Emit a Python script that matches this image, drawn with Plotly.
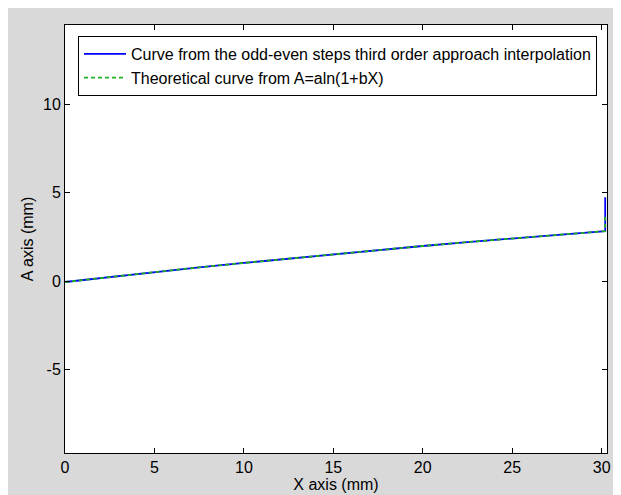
import plotly.graph_objects as go

# Data
x_interp = [0, 2.5, 5, 7.5, 10, 12.5, 15, 17.5, 20, 22.5, 25, 27.5, 30, 30.2, 30.2]
a_interp = [-0.05, 0.24, 0.51, 0.78, 1.03, 1.28, 1.52, 1.76, 1.99, 2.21, 2.42, 2.63, 2.82, 2.83, 4.75]

x_theory = [0, 2.5, 5, 7.5, 10, 12.5, 15, 17.5, 20, 22.5, 25, 27.5, 30, 30.2, 30.2]
a_theory = [-0.05, 0.24, 0.51, 0.78, 1.03, 1.28, 1.52, 1.76, 1.99, 2.21, 2.42, 2.63, 2.82, 2.83, 3.7]

x_ticks = [0, 5, 10, 15, 20, 25, 30]
y_ticks = [-5, 0, 5, 10]
y_tick_text = ["-5", "0", "5", "10"]

FONT = "Liberation Sans, Arial, sans-serif"
FS = 16

# figure sits at an 8px offset in the page (body margin)
W, H = 613, 487
L, R, T, B = 57, 599, 17, 445   # plot area in figure pixels
PW, PH = R - L, B - T

fig = go.Figure()
fig.add_trace(go.Scatter(
    x=x_interp, y=a_interp, mode="lines",
    name="Curve from the odd-even steps third order approach interpolation",
    line=dict(color="#0000ff", width=1.8),
))
fig.add_trace(go.Scatter(
    x=x_theory, y=a_theory, mode="lines",
    name="Theoretical curve from A=aln(1+bX)",
    line=dict(color="#22b022", width=1.8, dash="4px,3px"),
))

axis_common = dict(
    showgrid=False, zeroline=False, showline=True, linecolor="black", linewidth=1,
    mirror="ticks", ticks="inside", ticklen=5, tickcolor="black", automargin=False,
    tickfont=dict(family=FONT, size=FS, color="black"),
)

fig.update_layout(
    width=W, height=H,
    paper_bgcolor="#d9d9d9", plot_bgcolor="white",
    margin=dict(l=L, r=W - R, t=T, b=H - B, pad=0),
    font=dict(family=FONT, size=FS, color="black"),
    showlegend=True,
    legend=dict(
        x=(70 - L) / PW, y=(B - 28) / PH, xanchor="left", yanchor="top",
        bgcolor="white", bordercolor="black", borderwidth=1,
        font=dict(family=FONT, size=FS, color="black"),
        tracegroupgap=0, itemwidth=42,
    ),
    xaxis=dict(range=[0, 30.3], tickvals=x_ticks,
               title=dict(text="X axis (mm)", standoff=1,
                          font=dict(family=FONT, size=FS, color="black")),
               **axis_common),
    yaxis=dict(range=[-9.73, 14.5], tickvals=y_ticks, ticktext=y_tick_text,
               title=dict(text="A axis (mm)", standoff=5,
                          font=dict(family=FONT, size=FS, color="black")),
               **axis_common),
)

fig.write_html("out.html")
